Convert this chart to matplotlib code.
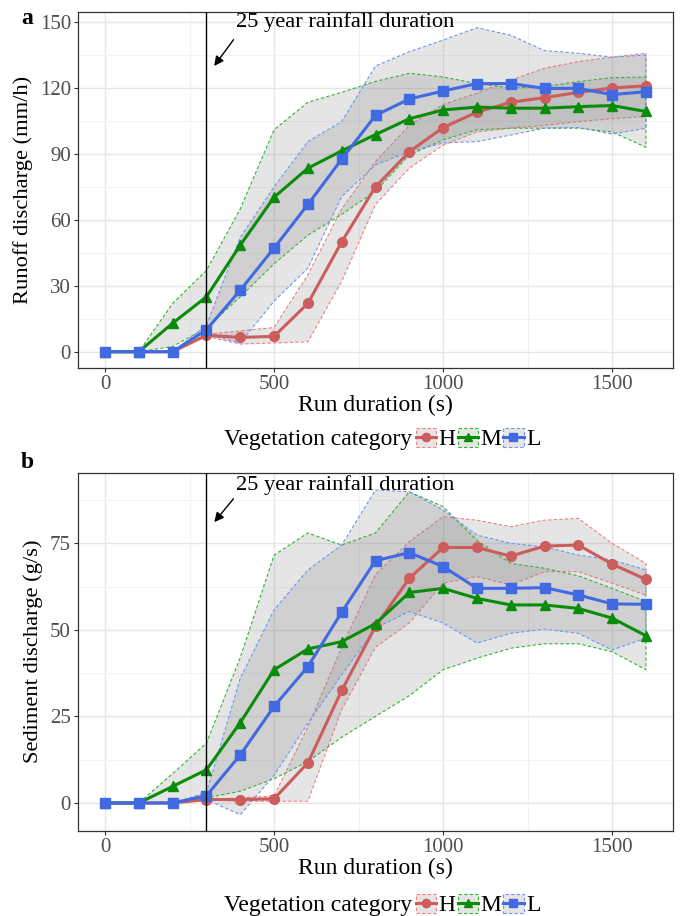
import matplotlib
matplotlib.use("Agg")
import matplotlib.pyplot as plt
from matplotlib.patches import Patch
from matplotlib.lines import Line2D
from matplotlib.legend_handler import HandlerTuple
from matplotlib.ticker import MultipleLocator

plt.rcParams['font.family'] = ['Liberation Serif', 'DejaVu Serif']

# Run duration (s)
time = [0, 100, 200, 300, 400, 500, 600, 700, 800, 900, 1000,
        1100, 1200, 1300, 1400, 1500, 1600]

categories = ["H", "M", "L"]

# Runoff discharge (mm/h): mean, lower and upper bounds per vegetation category
H_run = [0, 0, 0, 7.5, 6.5, 7, 22, 50, 75, 91, 102, 109, 113.5, 115.6, 118, 120, 121]
M_run = [0, 0, 13, 25, 48.5, 70.3, 83.5, 91.4, 98.8, 106, 110, 111.3, 110.8, 110.8, 111.5, 112, 109.3]
L_run = [0, 0, 0, 10, 28, 47.2, 67, 87.6, 107.5, 115, 118.6, 122, 122, 119.8, 119.8, 117, 118.3]

H_run_lo = [0, 0, 0, 7, 3.5, 4, 4.5, 32, 67, 83.5, 94, 100, 101.7, 103, 104.7, 106, 107]
H_run_hi = [0, 0, 0, 8, 9.5, 11, 35, 65, 86.5, 103, 112.5, 117.6, 123.6, 129, 132, 134, 135.8]
M_run_lo = [0, 0, 2.4, 10.8, 25, 40, 53, 62.5, 73, 89.5, 96.4, 101, 101.7, 101.7, 101.7, 100, 93]
M_run_hi = [0, 0, 22, 37, 65, 101, 113.5, 118, 123, 126.7, 125, 122, 120, 120.6, 122.9, 124.7, 125]
L_run_lo = [0, 0, 0, 8, 4, 23, 38, 70.6, 85, 91, 95, 95.6, 98.6, 101.7, 102, 99, 101.7]
L_run_hi = [0, 0, 0, 12, 52, 75, 95.6, 104.7, 130, 136.5, 141.8, 147.4, 144, 137, 135.8, 134, 135]

# Sediment discharge (g/s)
H_sed = [0, 0, 0, 1, 1, 1.2, 11.6, 32.5, 51, 64.9, 73.8, 73.8, 71.3, 74.2, 74.5, 69, 64.6]
M_sed = [0, 0, 4.8, 9.6, 23.2, 38.5, 44.5, 46.6, 51.8, 60.8, 62, 59.1, 57.2, 57.2, 56.2, 53.4, 48.3]
L_sed = [0, 0, 0, 2.1, 13.9, 27.9, 39.4, 55.1, 70, 72.3, 68.3, 62, 62, 62.2, 60.1, 57.5, 57.4]

H_sed_lo = [0, 0, 0, 1, 0.5, 0.5, 0.5, 27, 45, 52, 63.5, 65.4, 63, 66.8, 66.8, 63.5, 60]
H_sed_hi = [0, 0, 0, 1, 1.5, 2, 22, 45, 66, 75.5, 82.7, 81.7, 79.8, 81.7, 82.2, 75, 69.2]
M_sed_lo = [0, 0, 0.5, 1.5, 3.4, 7, 12, 19, 25, 31, 38.5, 41.8, 44.7, 46, 46, 43.7, 38.5]
M_sed_hi = [0, 0, 8.5, 17.3, 42, 71.6, 78, 74.5, 78, 89.9, 85.6, 75.9, 69.2, 67.8, 65.6, 62, 58.2]
L_sed_lo = [0, 0, 0, 1, -3.4, 8, 23, 37, 50.5, 55.3, 52, 46.2, 49, 50.2, 49, 44.2, 47.6]
L_sed_hi = [0, 0, 0, 3, 36, 55.8, 67.3, 74.5, 90.4, 89.9, 84.6, 77.4, 75, 74, 71.6, 70.2, 67.3]

rainfall_duration = 300

colors = {"H": "#CD5C5C", "M": "#0A8C0A", "L": "#4169E1"}
edge_colors = {"H": "#F08080", "M": "#2EB82E", "L": "#6E96F0"}
markers = {"H": "o", "M": "^", "L": "s"}

runoff = {"H": (H_run, H_run_lo, H_run_hi),
          "M": (M_run, M_run_lo, M_run_hi),
          "L": (L_run, L_run_lo, L_run_hi)}
sediment = {"H": (H_sed, H_sed_lo, H_sed_hi),
            "M": (M_sed, M_sed_lo, M_sed_hi),
            "L": (L_sed, L_sed_lo, L_sed_hi)}

W, H = 680, 916
fig = plt.figure(figsize=(W / 100, H / 100), dpi=100)


def fx(px):
    return px / W


def fy(py):
    return 1 - py / H


ax_a = fig.add_axes([fx(78), fy(368), fx(673 - 78), (368 - 11.7) / H])
ax_b = fig.add_axes([fx(78), fy(830.7), fx(673 - 78), (830.7 - 472.7) / H])


def draw_panel(ax, data, ylim, ystep, ylabel, text_y, head_y, tail_y):
    ax.set_facecolor("white")
    for cat in categories:
        _, lo, hi = data[cat]
        ax.fill_between(time, lo, hi, facecolor=(0.5, 0.5, 0.5, 0.2),
                        edgecolor=edge_colors[cat], linestyle=(0, (3, 2)),
                        linewidth=0.8, zorder=2)
    for cat in categories:
        mean = data[cat][0]
        ax.plot(time, mean, color=colors[cat], lw=2.2, marker=markers[cat],
                markersize=7, zorder=4)
    ax.axvline(rainfall_duration, color="black", lw=1.0, zorder=5)
    ax.annotate("", xy=(318, head_y), xytext=(385, tail_y),
                arrowprops=dict(arrowstyle="-|>", color="black", lw=1.0,
                                mutation_scale=14), zorder=6)
    ax.text(388, text_y, "25 year rainfall duration", fontsize=16.2,
            ha="left", va="center", zorder=6)

    ax.set_xlim(-80, 1680)
    ax.set_ylim(*ylim)
    ax.xaxis.set_major_locator(MultipleLocator(500))
    ax.xaxis.set_minor_locator(MultipleLocator(250))
    ax.yaxis.set_major_locator(MultipleLocator(ystep))
    ax.yaxis.set_minor_locator(MultipleLocator(ystep / 2))
    ax.grid(which="major", color="#E6E6E6", lw=1.0, zorder=0)
    ax.grid(which="minor", color="#F2F2F2", lw=0.8, zorder=0)
    ax.set_axisbelow(True)
    ax.tick_params(which="major", length=3, width=0.8, color="#333333",
                   labelsize=15, labelcolor="#4D4D4D", pad=2)
    ax.tick_params(which="minor", length=0)
    for s in ax.spines.values():
        s.set_color("#333333")
        s.set_linewidth(0.9)
    ax.set_xlabel("Run duration (s)", fontsize=17, labelpad=1)
    ax.set_ylabel(ylabel, fontsize=16.2, labelpad=5)


draw_panel(ax_a, runoff, (-7.4, 154.7), 30, "Runoff discharge (mm/h)",
           text_y=150, head_y=129, tail_y=143)
draw_panel(ax_b, sediment, (-8.0, 95.4), 25, "Sediment discharge (g/s)",
           text_y=91.8, head_y=80.5, tail_y=88.5)

fig.text(fx(21), fy(19), "a", fontsize=17, fontweight="bold",
         ha="left", va="center")
fig.text(fx(21), fy(463), "b", fontsize=17, fontweight="bold",
         ha="left", va="center")

handles = []
for cat in categories:
    patch = Patch(facecolor=(0.5, 0.5, 0.5, 0.2), edgecolor=edge_colors[cat],
                  linestyle=(0, (3, 2)), linewidth=0.8)
    line = Line2D([], [], color=colors[cat], lw=2.2, marker=markers[cat],
                  markersize=6)
    handles.append((patch, line))

for ly in (439, 905):
    fig.text(fx(412), fy(ly), "Vegetation category", fontsize=17,
             ha="right", va="center")
    fig.legend(handles, categories, loc="center left",
               bbox_to_anchor=(fx(416), fy(ly)), ncol=3, frameon=False,
               fontsize=17, handlelength=0.85, handleheight=0.85,
               handletextpad=0.1, columnspacing=0.1, borderpad=0,
               borderaxespad=0,
               handler_map={tuple: HandlerTuple(ndivide=1, pad=0)})

fig.savefig("out.png", dpi=100)
